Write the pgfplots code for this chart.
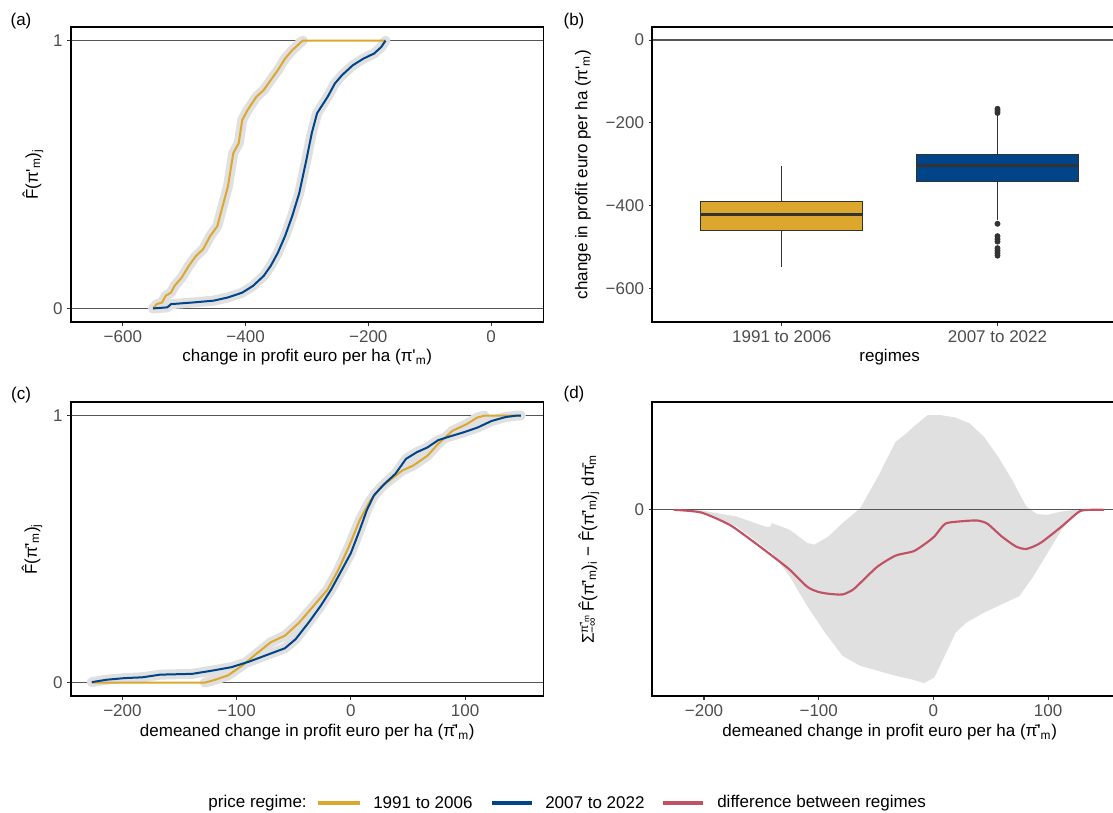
\documentclass[border=0pt]{standalone}
\usepackage{fontspec}
\setmainfont{Liberation Sans}
\usepackage{pgfplots}
\pgfplotsset{compat=1.18}

\definecolor{cyel}{RGB}{221,167,46}
\definecolor{cblue}{RGB}{0,68,138}
\definecolor{cred}{RGB}{193,82,99}
\definecolor{band}{RGB}{224,224,224}
\definecolor{tickgray}{RGB}{77,77,77}
\definecolor{darkgray}{RGB}{51,51,51}
\definecolor{refgray}{RGB}{85,85,85}

\newcommand{\Fh}{\^{F}}
\newcommand{\pim}{π\textquotesingle\textsubscript{m}}
\newcommand{\pibm}{\={π}\textquotesingle\textsubscript{m}}
\newcommand{\ggfont}{\fontsize{12.75}{15}\selectfont}

\pgfplotsset{
  panel/.style={
    scale only axis,
    axis on top,
    axis line style={line width=1.4pt, black},
    tick align=outside,
    tick pos=left,
    major tick length=2.8pt,
    every tick/.style={darkgray, line width=0.8pt},
    ticklabel style={font=\ggfont, text=tickgray},
    label style={font=\ggfont, text=black},
  },
  refline/.style={refgray, line width=1pt, forget plot},
  bandline/.style={band, line width=7.5pt, line join=round, line cap=round},
  cdfline/.style={line width=1.5pt, line join=round},
  boxedge/.style={draw=darkgray, line width=0.8pt},
}

\begin{document}
\begin{tikzpicture}[font=\ggfont]
\useasboundingbox (0,0) rectangle (834.75pt,-609.75pt);

% (a) empirical CDFs
\begin{axis}[panel,
  at={(53.25pt,-20.475pt)}, anchor=north west,
  width=354.375pt, height=220.875pt,
  xmin=-684.5, xmax=85.5, ymin=-0.05, ymax=1.05,
  xtick={-600,-400,-200,0}, xticklabels={−600,−400,−200,0},
  ytick={0,1}, yticklabels={0,1},
  xlabel={change in profit euro per ha (\pim)},
  ylabel={\Fh(\pim)\textsubscript{j}},
  xlabel style={at={(axis description cs:0.5,-0.1212)}, anchor=center},
  ylabel style={at={(axis description cs:-0.0804,0.5)}, anchor=center},
]
\addplot[refline] coordinates {(-684.5,0) (85.5,0)};
\addplot[refline] coordinates {(-684.5,1) (85.5,1)};
\addplot[bandline] coordinates {(-550.6,0) (-544.8,0.016) (-536.1,0.022) (-530.3,0.047) (-521.6,0.059) (-515.8,0.084) (-504.2,0.115) (-492.5,0.159) (-480.9,0.196) (-469.3,0.221) (-457.7,0.270) (-446.1,0.307) (-437.4,0.382) (-428.7,0.456) (-420.0,0.580) (-411.2,0.617) (-405.4,0.704) (-396.7,0.741) (-382.2,0.791) (-370.6,0.815) (-359.0,0.853) (-347.4,0.890) (-335.7,0.933) (-324.1,0.964) (-309.6,0.995) (-306.7,1.0)};
\addplot[bandline] coordinates {(-550.6,0) (-527.4,0.004) (-521.6,0.016) (-486.7,0.022) (-451.9,0.029) (-428.7,0.041) (-405.4,0.059) (-388.0,0.084) (-370.6,0.121) (-359.0,0.159) (-347.4,0.208) (-335.7,0.270) (-324.1,0.344) (-312.5,0.431) (-300.9,0.555) (-292.2,0.654) (-283.5,0.729) (-266.1,0.791) (-254.5,0.840) (-242.9,0.871) (-225.4,0.908) (-208.0,0.933) (-190.6,0.952) (-179.0,0.976) (-172.0,1.0)};
\addplot[cdfline, cyel] coordinates {(-550.6,0) (-544.8,0.016) (-536.1,0.022) (-530.3,0.047) (-521.6,0.059) (-515.8,0.084) (-504.2,0.115) (-492.5,0.159) (-480.9,0.196) (-469.3,0.221) (-457.7,0.270) (-446.1,0.307) (-437.4,0.382) (-428.7,0.456) (-420.0,0.580) (-411.2,0.617) (-405.4,0.704) (-396.7,0.741) (-382.2,0.791) (-370.6,0.815) (-359.0,0.853) (-347.4,0.890) (-335.7,0.933) (-324.1,0.964) (-309.6,0.995) (-306.7,1.0) (-171.9,1.0)};
\addplot[cdfline, cblue] coordinates {(-550.6,0) (-527.4,0.004) (-521.6,0.016) (-486.7,0.022) (-451.9,0.029) (-428.7,0.041) (-405.4,0.059) (-388.0,0.084) (-370.6,0.121) (-359.0,0.159) (-347.4,0.208) (-335.7,0.270) (-324.1,0.344) (-312.5,0.431) (-300.9,0.555) (-292.2,0.654) (-283.5,0.729) (-266.1,0.791) (-254.5,0.840) (-242.9,0.871) (-225.4,0.908) (-208.0,0.933) (-190.6,0.952) (-179.0,0.976) (-172.0,1.0)};
\end{axis}

% (b) box plots by regime (box from quartiles, whiskers, median, outliers)
\begin{axis}[panel,
  at={(489.3pt,-20.475pt)}, anchor=north west,
  width=355.875pt, height=220.875pt,
  xmin=0.4, xmax=2.6, ymin=-681, ymax=31,
  xtick={1,2}, xticklabels={1991 to 2006,2007 to 2022},
  ytick={-600,-400,-200,0}, yticklabels={−600,−400,−200,0},
  xlabel={regimes},
  ylabel={change in profit euro per ha (\pim)},
  xlabel style={at={(axis description cs:0.5,-0.1212)}, anchor=center},
  ylabel style={at={(axis description cs:-0.1463,0.5)}, anchor=center},
]
\addplot[refline] coordinates {(0.4,0) (2.6,0)};
% 1991 to 2006
\addplot[darkgray, line width=1pt] coordinates {(1,-390.6) (1,-305)};
\addplot[darkgray, line width=1pt] coordinates {(1,-460) (1,-549)};
\addplot[boxedge, fill=cyel] coordinates {(0.625,-460) (1.375,-460) (1.375,-390.6) (0.625,-390.6)} -- cycle;
\addplot[darkgray, line width=2.3pt] coordinates {(0.625,-422) (1.375,-422)};
% 2007 to 2022
\addplot[darkgray, line width=1pt] coordinates {(2,-277) (2,-180)};
\addplot[darkgray, line width=1pt] coordinates {(2,-341.5) (2,-434)};
\addplot[boxedge, fill=cblue] coordinates {(1.625,-341.5) (2.375,-341.5) (2.375,-277) (1.625,-277)} -- cycle;
\addplot[darkgray, line width=2.3pt] coordinates {(1.625,-303) (2.375,-303)};
\addplot[only marks, mark=*, mark size=2pt, darkgray] coordinates {
  (2,-166) (2,-171) (2,-176) (2,-444) (2,-474) (2,-481) (2,-487) (2,-503) (2,-509) (2,-515) (2,-521)};
\end{axis}

% (c) demeaned CDFs
\begin{axis}[panel,
  at={(53.25pt,-301.725pt)}, anchor=north west,
  width=354.375pt, height=220.275pt,
  xmin=-245, xmax=168.7, ymin=-0.05, ymax=1.05,
  xtick={-200,-100,0,100}, xticklabels={−200,−100,0,100},
  ytick={0,1}, yticklabels={0,1},
  xlabel={demeaned change in profit euro per ha (\pibm)},
  ylabel={\Fh(\pibm)\textsubscript{j}},
  xlabel style={at={(axis description cs:0.5,-0.1243)}, anchor=center},
  ylabel style={at={(axis description cs:-0.0825,0.5)}, anchor=center},
]
\addplot[refline] coordinates {(-245,0) (168.7,0)};
\addplot[refline] coordinates {(-245,1) (168.7,1)};
\addplot[bandline] coordinates {(-127.9,0) (-120.1,0.009) (-107.6,0.027) (-95.1,0.064) (-82.7,0.108) (-70.2,0.151) (-57.7,0.176) (-45.2,0.225) (-32.7,0.287) (-20.3,0.349) (-10.9,0.423) (-1.6,0.510) (7.8,0.609) (17.2,0.683) (26.5,0.733) (35.9,0.764) (45.2,0.795) (54.6,0.813) (67.1,0.850) (76.4,0.894) (88.9,0.943) (101.4,0.968) (110.7,0.993) (117.0,1.0)};
\addplot[bandline] coordinates {(-226.8,0.002) (-213.7,0.011) (-198.1,0.017) (-182.5,0.020) (-166.9,0.030) (-138.8,0.033) (-120.1,0.046) (-104.5,0.058) (-88.9,0.079) (-73.3,0.104) (-57.7,0.129) (-48.3,0.163) (-35.9,0.231) (-26.5,0.287) (-17.2,0.349) (-7.8,0.423) (0,0.485) (7.8,0.572) (14.0,0.646) (20.3,0.702) (29.6,0.745) (39.0,0.782) (48.3,0.838) (57.7,0.863) (67.1,0.881) (76.4,0.908) (85.8,0.921) (98.3,0.937) (110.7,0.955) (123.2,0.980) (135.7,0.995) (145.0,1.0) (148.8,1.0)};
\addplot[cdfline, cyel] coordinates {(-226.8,0) (-127.9,0) (-120.1,0.009) (-107.6,0.027) (-95.1,0.064) (-82.7,0.108) (-70.2,0.151) (-57.7,0.176) (-45.2,0.225) (-32.7,0.287) (-20.3,0.349) (-10.9,0.423) (-1.6,0.510) (7.8,0.609) (17.2,0.683) (26.5,0.733) (35.9,0.764) (45.2,0.795) (54.6,0.813) (67.1,0.850) (76.4,0.894) (88.9,0.943) (101.4,0.968) (110.7,0.993) (117.0,1.0) (148.8,1.0)};
\addplot[cdfline, cblue] coordinates {(-226.8,0.002) (-213.7,0.011) (-198.1,0.017) (-182.5,0.020) (-166.9,0.030) (-138.8,0.033) (-120.1,0.046) (-104.5,0.058) (-88.9,0.079) (-73.3,0.104) (-57.7,0.129) (-48.3,0.163) (-35.9,0.231) (-26.5,0.287) (-17.2,0.349) (-7.8,0.423) (0,0.485) (7.8,0.572) (14.0,0.646) (20.3,0.702) (29.6,0.745) (39.0,0.782) (48.3,0.838) (57.7,0.863) (67.1,0.881) (76.4,0.908) (85.8,0.921) (98.3,0.937) (110.7,0.955) (123.2,0.980) (135.7,0.995) (145.0,1.0) (148.8,1.0)};
\end{axis}

% (d) integrated difference between regimes
\begin{axis}[panel,
  at={(489.3pt,-301.725pt)}, anchor=north west,
  width=355.875pt, height=220.275pt,
  xmin=-245, xmax=168.7, ymin=-18.7, ymax=10.8,
  xtick={-200,-100,0,100}, xticklabels={−200,−100,0,100},
  ytick={0}, yticklabels={0},
  xlabel={demeaned change in profit euro per ha (\pibm)},
  ylabel={Σ\makebox[0pt][l]{\textsubscript{−∞}}\textsuperscript{\pibm}\,\Fh(\pibm)\textsubscript{i} − \Fh(\pibm)\textsubscript{j} d\={π}\textsubscript{m}},
  xlabel style={at={(axis description cs:0.5,-0.1243)}, anchor=center},
  ylabel style={at={(axis description cs:-0.1336,0.5)}, anchor=center},
]
\addplot[fill=band, draw=none, forget plot] coordinates {
  (-226.4,0) (-202.4,-0.07) (-171.6,-0.67) (-147.0,-1.67) (-142.3,-1.70) (-140.8,-1.33) (-125.4,-2.0) (-110.0,-3.33) (-103.8,-3.5) (-91.5,-2.67) (-79.2,-1.33) (-63.8,0.17) (-48.4,3.33) (-33.0,6.83) (-23.7,7.67) (-17.6,8.33) (-5.2,9.5) (7.1,9.5) (19.4,9.27) (31.7,8.67) (44.1,7.33) (56.4,5.33) (68.7,3.0) (81.0,0.33) (90.3,-0.43) (99.5,-0.5) (111.8,-0.17) (124.2,0) (136.5,0.07) (148.8,0)
  (148.8,0) (136.5,0) (124.2,-0.33) (111.8,-2.0) (99.5,-4.33) (87.2,-6.67) (74.9,-8.67) (62.5,-9.33) (44.1,-10.33) (28.7,-11.33) (19.4,-12.33) (7.1,-15.33) (0.9,-16.83) (-8.3,-17.4) (-17.6,-17.07) (-33.0,-16.67) (-48.4,-16.17) (-63.8,-15.67) (-79.2,-14.67) (-94.6,-12.33) (-110.0,-9.67) (-125.4,-6.67) (-140.8,-4.33) (-171.6,-1.67) (-202.4,-0.2) (-226.4,0)} -- cycle;
\addplot[refline] coordinates {(-245,0) (168.7,0)};
\addplot[cred, line width=1.6pt, line join=round, smooth, tension=0.4] coordinates {
  (-226.4,0) (-202.4,-0.27) (-177.8,-1.5) (-159.3,-3.0) (-143.9,-4.33) (-125.4,-6.0) (-110.0,-7.73) (-100.7,-8.23) (-91.5,-8.43) (-79.2,-8.5) (-69.9,-8.0) (-60.7,-7.0) (-48.4,-5.67) (-33.0,-4.6) (-17.6,-4.17) (-8.3,-3.5) (0.9,-2.67) (10.2,-1.4) (22.5,-1.17) (37.9,-1.07) (47.1,-1.4) (59.5,-2.67) (71.8,-3.67) (81.0,-3.93) (93.3,-3.33) (111.8,-1.67) (127.2,-0.17) (136.5,0) (148.8,0)};
\end{axis}

% panel tags and legend
\begin{scope}[x=0.75pt, y=-0.75pt]
\node at (21,21) {(a)};
\node at (574,21) {(b)};
\node at (21,395) {(c)};
\node at (574,394) {(d)};
\node[anchor=east, inner sep=0pt] at (307,803) {price regime:};
\draw[cyel, line width=3pt] (318,803) -- (360,803);
\node[anchor=west, inner sep=0pt] at (373,803) {1991 to 2006};
\draw[cblue, line width=3pt] (492,803) -- (532,803);
\node[anchor=west, inner sep=0pt] at (545,803) {2007 to 2022};
\draw[cred, line width=3pt] (663,803) -- (703,803);
\node[anchor=west, inner sep=0pt] at (717,803) {difference between regimes};
\end{scope}
\end{tikzpicture}
\end{document}
